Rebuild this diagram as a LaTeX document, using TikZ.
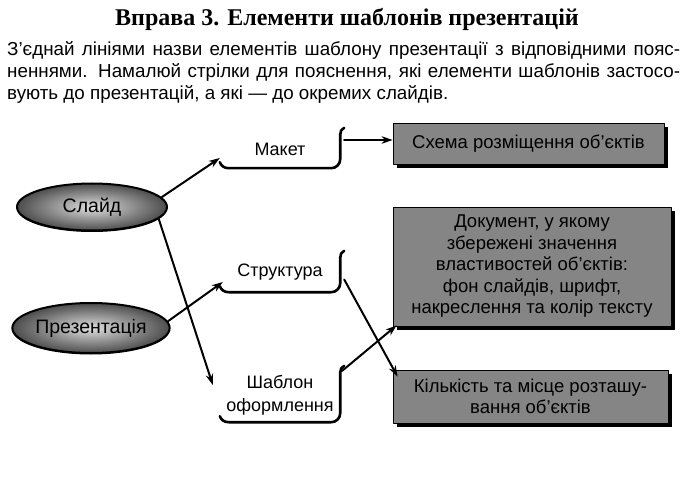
\documentclass[tikz,border=0pt]{standalone}
\usepackage{fontspec}
\setmainfont{Liberation Sans}
\newfontfamily\titlefont{Liberation Serif}
\usetikzlibrary{arrows.meta, positioning, calc, shadows, shapes.geometric}

\begin{document}
\begin{tikzpicture}[x=1pt, y=1pt, line cap=round, line join=round,
  oval/.style={ellipse, draw=black, line width=2pt, inner sep=0pt,
    shading=radial, inner color=gray!25, outer color=black!70,
    font=\fontsize{19.5}{21}\selectfont,
    drop shadow={shadow xshift=0pt, shadow yshift=-1.5pt, fill=black, opacity=1}},
  tag/.style={minimum width=120pt, inner sep=0pt, align=center,
    font=\fontsize{18}{23}\selectfont},
  infobox/.style={fill=black!48, draw=black, line width=0.8pt, inner sep=0pt,
    align=center, font=\fontsize{18.5}{21.5}\selectfont,
    drop shadow={shadow xshift=4pt, shadow yshift=-4pt, fill=black, opacity=1}},
  brace/.style={line width=2.6pt},
  link/.style={-{Stealth[length=11pt,width=7.5pt]}, line width=2pt}]

\useasboundingbox (0,0) rectangle (690,477);

% Heading and task
\node[font=\titlefont\bfseries\fontsize{24}{28}\selectfont] (title) at (347,458)
  {Вправа 3. Елементи шаблонів презентацій};
\node[anchor=north west, inner sep=0pt, align=left,
  font=\fontsize{18.8}{22}\selectfont] (task) at (7,436)
  {\makebox[673pt][s]{З’єднай лініями назви елементів шаблону презентації з відповідними пояс-}\\
   \makebox[673pt][s]{неннями. Намалюй стрілки для пояснення, які елементи шаблонів застосо-}\\
   вують до презентацій, а які — до окремих слайдів.};

% Ovals
\node[oval, minimum width=150pt, minimum height=47pt] (slide) at (92,270) {Слайд};
\node[oval, minimum width=147pt, minimum height=50pt] (pres) at (91,149) {Презентація};

% Template elements
\node[tag, minimum height=38pt] (maket) at (280,328) {Макет};
\node[tag, minimum height=39pt] (struct) at (280,204.5) {Структура};
\node[tag, minimum height=54pt] (shablon) at (280,82) {Шаблон\\оформлення};

\foreach \n in {maket, struct, shablon}
  \draw[brace] ($(\n.south west)+(0,6)$) to[out=-70,in=180] ($(\n.south west)+(9,0)$)
    -- ($(\n.south east)+(-9,0)$) to[out=0,in=-90] ($(\n.south east)+(0,9)$)
    -- ($(\n.north east)+(0,-5)$) to[out=90,in=200] ($(\n.north east)+(4,2)$);

% Explanations
\node[infobox, minimum width=271pt, minimum height=41pt] (box1) at (528.5,333.5)
  {Схема розміщення об’єктів};
\node[infobox, minimum width=278pt, minimum height=119pt] (box2) at (532,210.5)
  {Документ, у якому\\збережені значення\\властивостей об’єктів:\\фон слайдів, шрифт,\\накреслення та колір тексту};
\node[infobox, minimum width=275pt, minimum height=53pt] (box3) at (530.5,80.5)
  {Кількість та місце розташу-\\вання об’єктів};

% Arrows
\draw[link] (slide.8) -- ([yshift=-9pt]maket.west);
\draw[link] (slide.-10) -- ([shift={(-7pt,10pt)}]shablon.west);
\draw[link] (pres.5) -- ([shift={(3pt,-9.5pt)}]struct.west);
\draw[link] ([shift={(4pt,9pt)}]maket.east) -- ([yshift=3.5pt]box1.west);
\draw[link] ([shift={(4pt,-7pt)}]struct.east) -- ([shift={(5pt,-7pt)}]box3.north west);
\draw[link] ([shift={(2pt,-3pt)}]shablon.north east) -- ([shift={(4pt,1pt)}]box2.south west);

\end{tikzpicture}
\end{document}
